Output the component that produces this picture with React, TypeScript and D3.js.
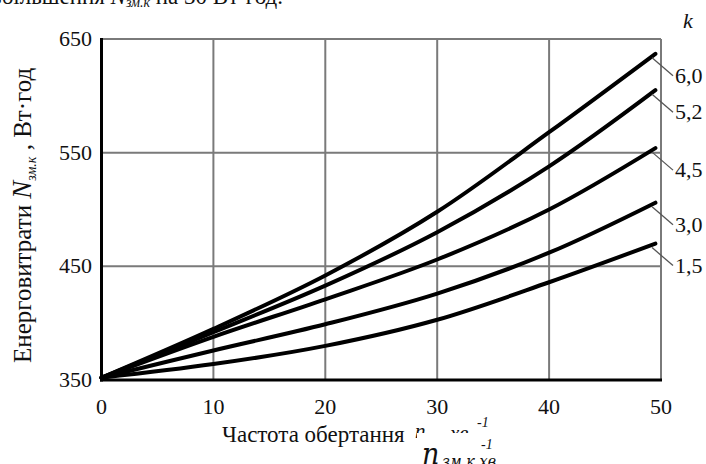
import React from "react";
import * as d3 from "d3";

// Rotation frequency, min^-1
const freq = [0, 10, 20, 30, 40, 49.5];
// Coefficient k for each curve
const kLabels = ["6,0", "5,2", "4,5", "3,0", "1,5"];
// Energy consumption N, W·h, one row per k
const energy = [
  [352, 395, 442, 498, 568, 637],
  [352, 392, 433, 480, 538, 605],
  [352, 388, 421, 456, 500, 554],
  [352, 376, 399, 426, 462, 506],
  [352, 364, 380, 403, 436, 470],
];
const xTicks = [0, 10, 20, 30, 40, 50];
const yTicks = [350, 450, 550, 650];

const W = 706;
const H = 464;
const M = { left: 101.5, right: 661, top: 39, bottom: 380 };
const FONT = "Liberation Serif";
const FONT2 = "DejaVu Serif Condensed";

export default function App() {
  const x = d3.scaleLinear().domain([0, 50]).range([M.left, M.right]);
  const y = d3.scaleLinear().domain([350, 650]).range([M.bottom, M.top]);
  const line = d3
    .line<number>()
    .x((_, i) => x(freq[i]))
    .y((d) => y(d))
    .curve(d3.curveCatmullRom.alpha(0.5));

  return (
    <svg width={W} height={H} style={{ position: "absolute", left: 0, top: 0, background: "#fff" }}>
      <rect width={W} height={H} fill="#fff" />
      <g fontFamily={FONT}>
        {/* caption line above, clipped by the page edge */}
        <text x={283} y={4} fontSize={23} textAnchor="end" fill="#111">
          збільшення <tspan fontStyle="italic">N</tspan>
          <tspan fontSize={14} dy={3} fontStyle="italic">зм.к</tspan>
          <tspan dy={-3}> на 30 Вт·год.</tspan>
        </text>

        {/* grid */}
        {xTicks.slice(1).map((t) => (
          <line key={"gx" + t} x1={x(t)} x2={x(t)} y1={M.top} y2={M.bottom} stroke="#7a7a7a" strokeWidth={2} />
        ))}
        {yTicks.slice(1).map((t) => (
          <line key={"gy" + t} x1={M.left} x2={M.right} y1={y(t)} y2={y(t)} stroke="#7a7a7a" strokeWidth={2} />
        ))}
        {/* axes */}
        <line x1={M.left} x2={M.left} y1={M.top - 1} y2={M.bottom + 1.5} stroke="#000" strokeWidth={3} />
        <line x1={M.left - 1.5} x2={M.right + 1} y1={M.bottom} y2={M.bottom} stroke="#000" strokeWidth={3} />

        {/* tick labels */}
        {yTicks.map((t) => (
          <text key={"ty" + t} x={92} y={y(t) + 7} fontSize={22} textAnchor="end" fill="#111">
            {t}
          </text>
        ))}
        {xTicks.map((t) => (
          <text key={"tx" + t} x={x(t)} y={414} fontSize={22} textAnchor="middle" fill="#111">
            {t}
          </text>
        ))}

        {/* curves */}
        {energy.map((row, i) => (
          <path key={"c" + i} d={line(row) || ""} fill="none" stroke="#000" strokeWidth={4} strokeLinecap="round" />
        ))}

        {/* curve labels with leaders */}
        <text x={683} y={28} fontSize={22} fontStyle="italic" fill="#111">k</text>
        {energy.map((row, i) => {
          const end = row[row.length - 1];
          const ly = y(end) + 22;
          return (
            <g key={"l" + i}>
              <line x1={x(49.2)} y1={y(end) + 4} x2={673} y2={ly} stroke="#555" strokeWidth={1.3} />
              <text x={675} y={ly + 7} fontSize={22} fill="#111">
                {kLabels[i]}
              </text>
            </g>
          );
        })}

        {/* y axis title */}
        <text transform="translate(31,363) rotate(-90)" fontSize={25} fill="#111">
          Енерговитрати{"  "}
          <tspan fontStyle="italic" fontSize={27}>N</tspan>
          <tspan fontSize={14} dy={5} fontStyle="italic">зм.к</tspan>
          <tspan dy={-5}> , Вт·год</tspan>
        </text>

        {/* x axis title */}
        <text x={222} y={442} fontSize={23} fill="#111">Частота обертання</text>
        <text x={415} y={438} fontSize={21} fontStyle="italic" fill="#111">n</text>
        <text x={450} y={440} fontSize={21} fontStyle="italic" fill="#111">хв</text>
        <text x={477} y={427} fontSize={14} fontStyle="italic" fill="#111">-1</text>
        <rect x={417} y={433} width={100} height={31} fill="#fff" />
        <text x={481} y={449} fontSize={14} fontStyle="italic" fill="#111">-1</text>
        <text x={422} y={464} fontSize={30} fontStyle="italic" fill="#111" fontFamily={FONT2}>
          n
        </text>
        <text x={442} y={467} fontSize={16} fontStyle="italic" fill="#111" fontFamily={FONT2}>
          зм.к.хв
        </text>
      </g>
    </svg>
  );
}
